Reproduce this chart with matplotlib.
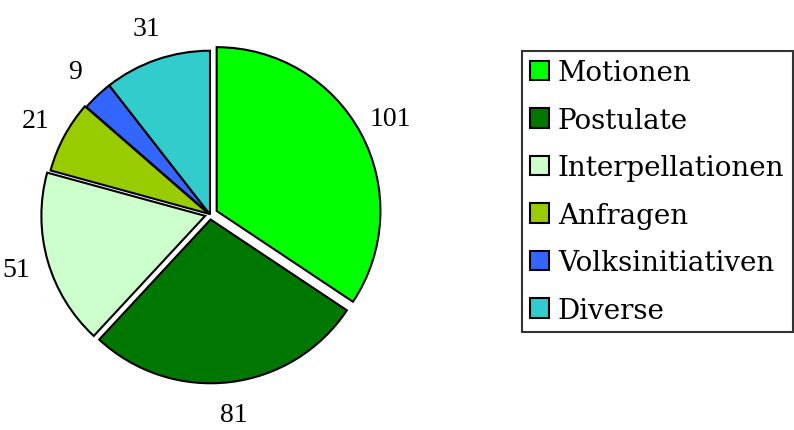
import matplotlib
matplotlib.use("Agg")
import matplotlib.pyplot as plt

categories = ["Motionen", "Postulate", "Interpellationen", "Anfragen", "Volksinitiativen", "Diverse"]
values = [101, 81, 51, 21, 9, 31]
colors = ["#00ff00", "#007700", "#ccffcc", "#99cc00", "#3366ff", "#33cccc"]
explode = [0.045, 0.03, 0.03, 0.01, 0.0, 0.0]

plt.rcParams['font.family'] = ['DejaVu Serif']

fig = plt.figure(figsize=(7.94, 4.31), dpi=100)
ax = fig.add_axes([0, 0, 420/794, 1])
wedges, texts = ax.pie(values, colors=colors, startangle=90, counterclock=False,
                       explode=explode, labels=[str(v) for v in values],
                       labeldistance=1.2, radius=0.975,
                       wedgeprops=dict(edgecolor="black", linewidth=1.5),
                       textprops=dict(fontsize=20, family=['Liberation Serif', 'DejaVu Serif']))
for t in texts:
    t.set_ha('center')
ax.set_xlim(-1.25, 1.25)
ax.set_ylim(-1.283, 1.283)
ax.set_aspect('equal')
ax.axis('off')

leg = fig.legend(wedges, categories, loc='upper left', bbox_to_anchor=(0.657, 0.88),
                 fontsize=20, frameon=True, fancybox=False, handlelength=0.7,
                 handleheight=0.7, handletextpad=0.3, borderpad=0.3, labelspacing=0.74,
                 borderaxespad=0)
leg.get_frame().set_edgecolor('black')
leg.get_frame().set_linewidth(1.5)

fig.savefig("out.png", dpi=100)
